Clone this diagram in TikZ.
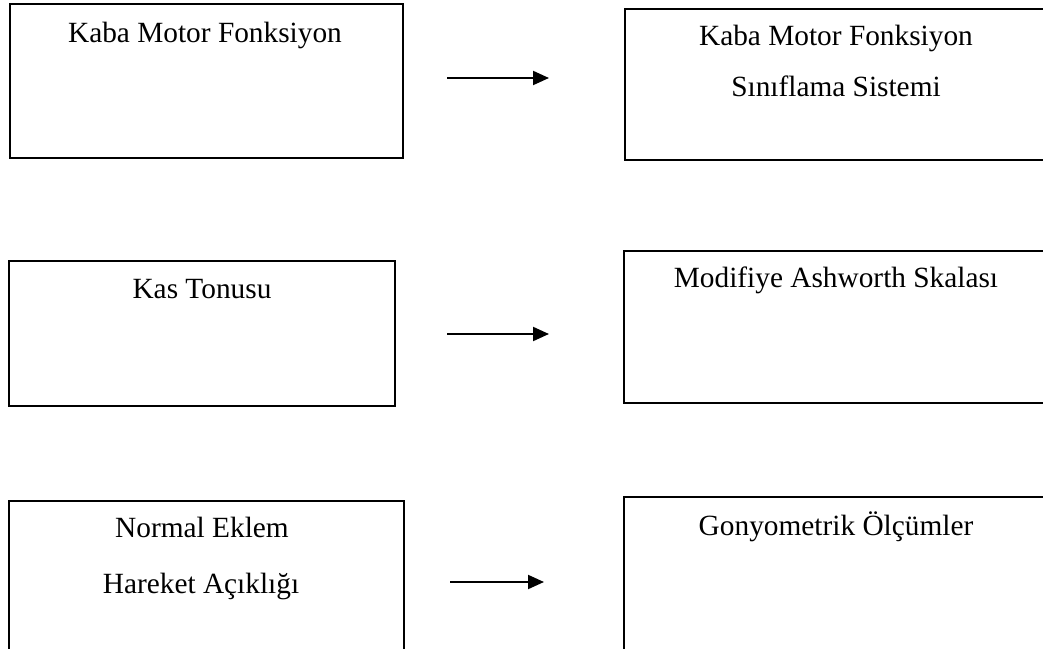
\documentclass[tikz,border=0pt]{standalone}
\usepackage{fontspec}
\setmainfont{Liberation Serif}
\usetikzlibrary{arrows.meta}

\tikzset{
	kutu/.style={draw, line width=1.5pt, anchor=north west, inner sep=0pt},
	yazi/.style={anchor=base, font=\fontsize{22}{38}\selectfont, inner sep=0pt},
	ok/.style={-{Triangle[length=12pt, width=10.5pt]}, line width=1.5pt}
}

\begin{document}
\begin{tikzpicture}[x=0.75pt, y=-0.75pt]
			\useasboundingbox (0, 0) rectangle (1043, 649);
			\clip (0, 0) rectangle (1043, 649);
			
			% Sol kutular
			\node[kutu, minimum width=294.75pt, minimum height=115.5pt] (kmf) at (9, 3) {};
			\node[kutu, minimum width=289.5pt, minimum height=108.75pt] (kt) at (8, 260) {};
			\node[kutu, minimum width=296.25pt, minimum height=120pt] (nea) at (8, 500) {};
			
			% Sag kutular
			\node[kutu, minimum width=318pt, minimum height=113.25pt] (kmfss) at (624, 8) {};
			\node[kutu, minimum width=318.75pt, minimum height=114pt] (mas) at (623, 250) {};
			\node[kutu, minimum width=318.75pt, minimum height=123pt] (go) at (623, 496) {};
			
			% Yazilar
			\node[yazi] (kmft) at (205, 43) {Kaba Motor Fonksiyon};
			\node[yazi] (kmfsst1) at (836, 46) {Kaba Motor Fonksiyon};
			\node[yazi] (kmfsst2) at (836, 97) {Sınıflama Sistemi};
			\node[yazi] (ktt) at (202, 298) {Kas Tonusu};
			\node[yazi] (mast) at (836, 287) {Modifiye Ashworth Skalası};
			\node[yazi] (neat1) at (202, 537) {Normal Eklem};
			\node[yazi] (neat2) at (201, 593) {Hareket Açıklığı};
			\node[yazi] (got) at (836, 535) {Gonyometrik Ölçümler};
			
			% Oklar
			\foreach \i/\y/\a/\b in {1/78/447/549, 2/334/447/549, 3/582/450/544}{
				\coordinate (o\i a) at (\a, \y);
				\coordinate (o\i b) at (\b, \y);
				\draw[ok] (o\i a) -- (o\i b);}
		\end{tikzpicture}
\end{document}
